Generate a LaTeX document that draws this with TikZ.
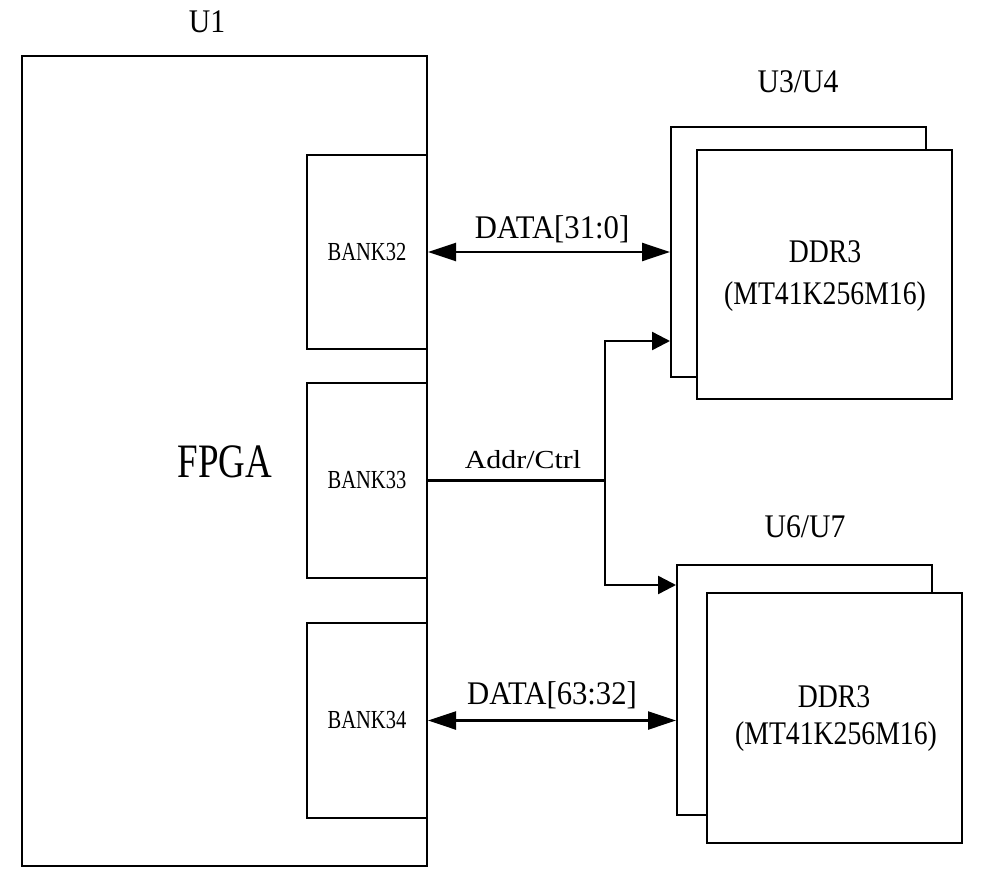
\documentclass[tikz,border=0pt]{standalone}
\usepackage{fontspec}
\usepackage{graphicx}
\setmainfont{Liberation Serif}
\newcommand{\hsc}[2]{\scalebox{#1}[1]{#2}}
\usetikzlibrary{arrows.meta}
\begin{document}
\begin{tikzpicture}[x=1pt,y=-1pt,
  box/.style={draw,line width=2pt,rectangle,inner sep=0pt,fill=white},
  lbl/.style={inner sep=0pt,font=\fontsize{33}{36}\selectfont},
  banklbl/.style={inner sep=0pt,font=\fontsize{26}{28}\selectfont},
  wire/.style={line width=2.4pt},
  dbl/.style={wire,{Triangle[length=28pt,width=18pt]}-{Triangle[length=28pt,width=18pt]}},
  arr/.style={wire,-{Triangle[length=18pt,width=18pt]}}]
\useasboundingbox (0,0) rectangle (1000,885);
% FPGA
\node[box,minimum width=405pt,minimum height=810pt] (fpga) at (224.5,461) {};
\node[inner sep=0pt,font=\fontsize{48}{52}\selectfont] (fpgat) at (225,462) {\hsc{0.77}{FPGA}};
\node[lbl] (u1) at (207,22) {\hsc{0.9}{U1}};
\node[box,minimum width=120pt,minimum height=194pt] (b32) at (367,252) {};
\node[box,minimum width=120pt,minimum height=195pt] (b33) at (367,480.5) {};
\node[box,minimum width=120pt,minimum height=195pt] (b34) at (367,720.5) {};
\node[banklbl] at (b32) {\hsc{0.79}{BANK32}};
\node[banklbl] at (b33) {\hsc{0.79}{BANK33}};
\node[banklbl] at (b34) {\hsc{0.79}{BANK34}};
% DDR upper
\node[box,minimum width=255pt,minimum height=250pt] (ua) at (798.5,252) {};
\node[box,minimum width=255pt,minimum height=249pt] (ub) at (824.5,274.5) {};
\node[lbl] (u34) at (798,82) {\hsc{0.9}{U3/U4}};
\node[lbl] (ddrA) at (825,252) {\hsc{0.84}{DDR3}};
\node[lbl] (mtA) at (825,297) {\hsc{0.84}{(MT41K256M16)}};
% DDR lower
\node[box,minimum width=255pt,minimum height=250pt] (la) at (804.5,690) {};
\node[box,minimum width=255pt,minimum height=250pt] (lb) at (834.5,718) {};
\node[lbl] (u67) at (805,527) {\hsc{0.9}{U6/U7}};
\node[lbl] (ddrB) at (834,697) {\hsc{0.84}{DDR3}};
\node[lbl] (mtB) at (836,737) {\hsc{0.84}{(MT41K256M16)}};
% connections
\draw[dbl] (b32.east) -- (ua.west);
\node[lbl] (dA) at (552,229) {\hsc{0.93}{DATA[31:0]}};
\draw[dbl] (b34.east) -- (la.west |- b34.east);
\node[lbl] (dB) at (552,695) {\hsc{0.93}{DATA[63:32]}};
\coordinate (sp) at (605,480.5);
\draw[wire] (b33.east) -- (sp);
\draw[arr] (sp) |- ([yshift=-89pt]ua.west);
\draw[arr] (sp) |- ([yshift=105pt]la.west);
\node[inner sep=0pt,font=\fontsize{26}{28}\selectfont] (ac) at (523,460) {\hsc{1.15}{Addr/Ctrl}};
\end{tikzpicture}
\end{document}
